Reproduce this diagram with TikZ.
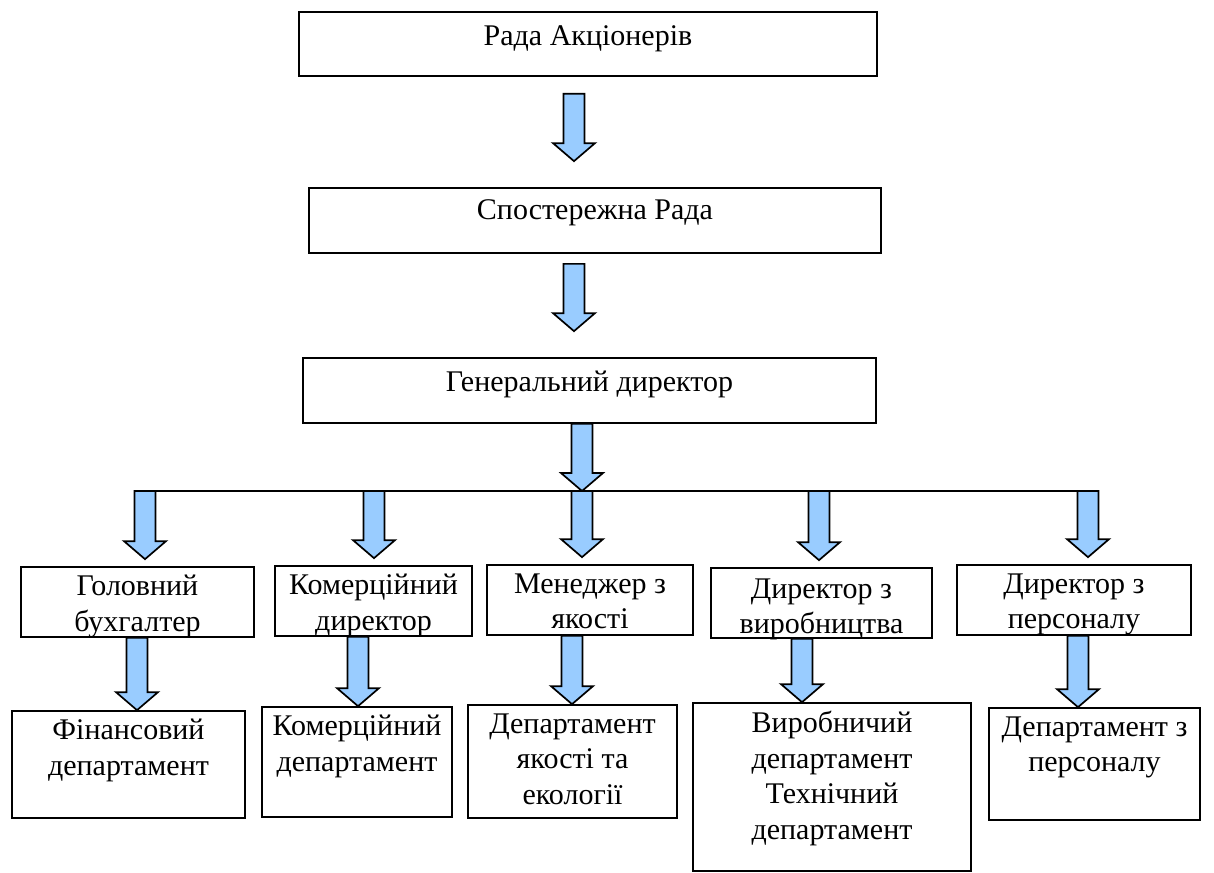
\documentclass[tikz,border=0pt]{standalone}
\usepackage{fontspec}
\setmainfont{Liberation Serif}
\usetikzlibrary{calc}
\definecolor{arrowblue}{RGB}{153,204,255}

\begin{document}
\begin{tikzpicture}[x=1pt, y=-1pt,
	box/.style={draw, line width=1.7pt, inner sep=0pt},
	txt/.style={anchor=north, yshift=-9pt, align=center, inner sep=0pt,
		font=\fontsize{30}{35.5}\selectfont, execute at begin node=\strut},
	blk/.style 2 args={draw=black, line width=1.7pt, fill=arrowblue, line join=miter,
		to path={let \p1=(\tikztostart), \p2=(\tikztotarget) in
			(\x1-10.5pt,\y1-#1pt) -- (\x1-10.5pt,\y2+#2pt+18pt) -- (\x1-21pt,\y2+#2pt+18pt)
			-- (\x1,\y2+#2pt) -- (\x1+21pt,\y2+#2pt+18pt) -- (\x1+10.5pt,\y2+#2pt+18pt)
			-- (\x1+10.5pt,\y1-#1pt) -- cycle}},
	arr/.style={blk={0}{0}}]
	\useasboundingbox (0,0) rectangle (1214,872);
	% top
	\node[box, minimum width=578, minimum height=64, label={[txt]north:Рада Акціонерів}] (rada) at (588,44) {};
	\node[box, minimum width=572, minimum height=65, label={[txt, yshift=2pt]north:Спостережна Рада}] (spost) at (595,220.5) {};
	\node[box, minimum width=573, minimum height=65, label={[txt]north:Генеральний директор}] (gen) at (589.5,390.5) {};
	% directors
	\node[box, minimum width=233, minimum height=70, label={[txt]north:{Головний\\бухгалтер}}] (buh) at (137.5,602) {};
	\node[box, minimum width=197, minimum height=70, label={[txt]north:{Комерційний\\директор}}] (komd) at (373.5,601) {};
	\node[box, minimum width=206, minimum height=70, label={[txt]north:{Менеджер з\\якості}}] (men) at (590,600) {};
	\node[box, minimum width=221, minimum height=70, label={[txt, yshift=-2pt]north:{Директор з\\виробництва}}] (vyr) at (821.5,603) {};
	\node[box, minimum width=234, minimum height=70, label={[txt]north:{Директор з\\персоналу}}] (pers) at (1074,600) {};
	% departments
	\node[box, minimum width=233, minimum height=107, label={[txt]north:{Фінансовий\\департамент}}] (fin) at (128.5,764.5) {};
	\node[box, minimum width=190, minimum height=110, label={[txt]north:{Комерційний\\департамент}}] (komdep) at (357,762) {};
	\node[box, minimum width=209, minimum height=113, label={[txt]north:{Департамент\\якості та\\екології}}] (yak) at (572.5,761.5) {};
	\node[box, minimum width=278, minimum height=168, label={[txt]north:{Виробничий\\департамент\\Технічний\\департамент}}] (vdep) at (832,787) {};
	\node[box, minimum width=211, minimum height=112, label={[txt]north:{Департамент з\\персоналу}}] (pdep) at (1094.5,764) {};

	\coordinate (busL) at (145,491);
	\coordinate (busR) at (1088,491);
	\draw[line width=1.7pt] (busL) -- (busR);

	\draw[blk={17}{26}] (rada.south -| 574,0) to (spost.north -| 574,0);
	\draw[blk={10}{26}] (spost.south -| 574,0) to (gen.north -| 574,0);
	\draw[arr] (gen.south -| 582,0) to (busL -| 582,0);
	\foreach \bx/\ax in {buh/145, komd/374, men/582, vyr/819, pers/1088}
		\draw[blk={0}{7}] (busL -| \ax,0) to (\bx.north -| \ax,0);
	\foreach \up/\lo/\ax in {buh/fin/137, komd/komdep/358, men/yak/572, vyr/vdep/802, pers/pdep/1078}
		\draw[arr] (\up.south -| \ax,0) to (\lo.north -| \ax,0);
\end{tikzpicture}
\end{document}
